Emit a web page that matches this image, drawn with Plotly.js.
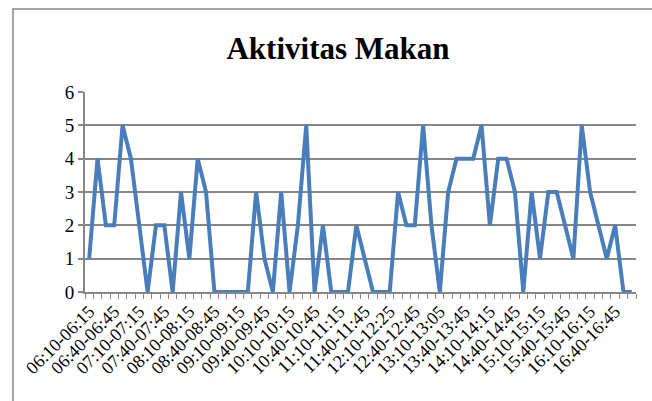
<!DOCTYPE html>
<html>
<head>
<meta charset="utf-8">
<script src="https://cdn.plot.ly/plotly-3.0.1.min.js"></script>
<style>
html,body{margin:0;padding:0;background:#fff;}
#chart{width:652px;height:401px;}
</style>
</head>
<body>
<div id="chart"></div>
<script>
// Series values, one per 10-minute slot starting 06:10
const makan = [
  1,4,2,2,5,4,2,0,2,2,0,3,1,4,3,0,0,0,0,0,3,1,0,
  3,0,2,5,0,2,0,0,0,2,1,0,0,0,3,2,2,5,2,0,3,4,4,
  4,5,2,4,4,3,0,3,1,3,3,2,1,5,3,2,1,2,0,0
];
// Tick labels (every third slot)
const tickLabels = [
  "06:10-06:15","06:40-06:45","07:10-07:15","07:40-07:45","08:10-08:15",
  "08:40-08:45","09:10-09:15","09:40-09:45","10:10-10:15","10:40-10:45",
  "11:10-11:15","11:40-11:45","12:10-12:25","12:40-12:45","13:10-13:05",
  "13:40-13:45","14:10-14:15","14:40-14:45","15:10-15:15","15:40-15:45",
  "16:10-16:15","16:40-16:45"
];
const labelStep = 3;

const xs = makan.map((_, i) => i);
const tickVals = tickLabels.map((_, k) => k * labelStep);

const serif = "Liberation Serif";
const grey = "#868686";

const trace = {
  x: xs, y: makan, type: "scatter", mode: "lines",
  line: {color: "#4a7ebb", width: 4},
  cliponaxis: false, hoverinfo: "skip"
};

const L = 85, R = 636, T = 92, B = 292, W = 652, H = 401;
const px2x = p => (p - L) / (R - L);
const px2y = p => (B - p) / (B - T);

const layout = {
  width: W, height: H,
  margin: {l: L, r: W - R, t: T, b: H - B},
  paper_bgcolor: "#fff", plot_bgcolor: "#fff",
  showlegend: false,
  title: {
    text: "<b>Aktivitas Makan</b>",
    font: {family: serif, size: 31, color: "#000"},
    x: 338 / W, xref: "container", xanchor: "center",
    y: 1 - 59 / H, yref: "container", yanchor: "bottom"
  },
  xaxis: {
    type: "linear", range: [-0.5, makan.length - 0.5],
    tickmode: "array", tickvals: tickVals, ticktext: tickLabels,
    tickangle: -45, ticks: "", showgrid: false, zeroline: false,
    showline: true, linecolor: grey, linewidth: 2,
    tickfont: {family: serif, size: 18, color: "#000"},
    minor: {tick0: -0.5, dtick: 1, ticks: "outside", ticklen: 5, tickcolor: grey, tickwidth: 1, showgrid: false}
  },
  yaxis: {
    range: [0, 6], dtick: 1, tick0: 0,
    ticks: "outside", ticklen: 5, tickcolor: grey, tickwidth: 2,
    showgrid: true, gridcolor: grey, gridwidth: 2,
    zeroline: false, showline: true, linecolor: grey, linewidth: 2,
    tickfont: {family: serif, size: 19, color: "#000"}
  },
  shapes: [{
    type: "rect", xref: "paper", yref: "paper",
    x0: px2x(13), x1: px2x(670), y0: px2y(420), y1: px2y(9),
    line: {color: grey, width: 1.5}, fillcolor: "rgba(0,0,0,0)", layer: "below"
  }]
};

Plotly.newPlot("chart", [trace], layout, {staticPlot: true, displayModeBar: false});
</script>
</body>
</html>
